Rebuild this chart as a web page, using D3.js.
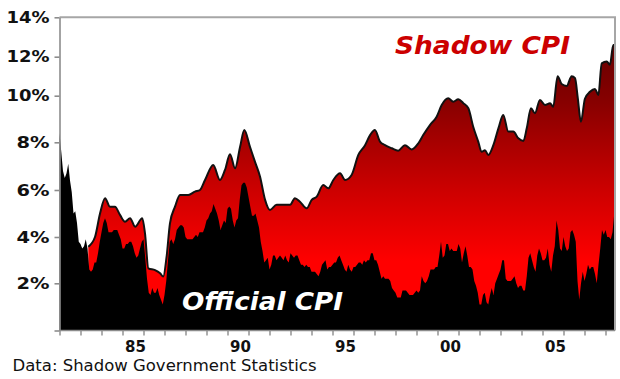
<!DOCTYPE html>
<html><head><meta charset="utf-8">
<script src="https://cdn.jsdelivr.net/npm/d3@7"></script>
<style>body{margin:0;background:#fff}svg{display:block}</style>
</head><body>
<svg id="c" width="620" height="379"></svg>
<script>
// ---- data ----
const officialStartYear = 1982; // monthly values, Jan 1982 .. Jun 2008 (year-on-year %)
const officialCPI = [
  8.4,7.6,6.8,6.5,6.7,7.1,6.4,5.9,5.0,5.1,4.6,3.8,   // 1982
  3.7,3.5,3.6,3.9,3.5,2.6,2.5,2.6,2.9,2.9,3.3,3.8,   // 1983
  4.2,4.6,4.8,4.6,4.2,4.2,4.2,4.3,4.3,4.3,4.1,3.9,   // 1984
  3.5,3.5,3.7,3.7,3.8,3.8,3.6,3.3,3.1,3.2,3.5,3.8,   // 1985
  3.9,3.1,2.2,1.6,1.5,1.8,1.6,1.6,1.8,1.5,1.3,1.1,   // 1986
  1.5,2.1,3.0,3.8,3.9,3.7,3.9,4.3,4.4,4.5,4.5,4.4,   // 1987
  4.0,3.9,3.9,3.9,3.9,4.0,4.1,4.0,4.2,4.2,4.2,4.4,   // 1988
  4.7,4.8,5.0,5.1,5.4,5.2,5.0,4.7,4.3,4.5,4.7,4.6,   // 1989
  5.2,5.3,5.2,4.7,4.4,4.7,4.8,5.6,6.2,6.3,6.3,6.1,   // 1990
  5.7,5.3,4.9,4.9,5.0,4.7,4.4,3.8,3.4,2.9,3.0,3.1,   // 1991
  2.6,2.8,3.2,3.2,3.0,3.1,3.2,3.1,3.0,3.2,3.0,2.9,   // 1992
  3.3,3.2,3.1,3.2,3.2,3.0,2.8,2.8,2.7,2.8,2.7,2.7,   // 1993
  2.5,2.5,2.5,2.4,2.3,2.5,2.8,2.9,3.0,2.6,2.7,2.7,   // 1994
  2.8,2.9,2.9,3.1,3.2,3.0,2.8,2.6,2.5,2.8,2.6,2.5,   // 1995
  2.7,2.7,2.8,2.9,2.9,2.8,3.0,2.9,3.0,3.0,3.3,3.3,   // 1996
  3.0,3.0,2.8,2.5,2.2,2.3,2.2,2.2,2.2,2.1,1.8,1.7,   // 1997
  1.6,1.4,1.4,1.4,1.7,1.7,1.7,1.6,1.5,1.5,1.5,1.6,   // 1998
  1.7,1.6,1.7,2.3,2.1,2.0,2.1,2.3,2.6,2.6,2.6,2.7,   // 1999
  2.7,3.2,3.8,3.1,3.2,3.7,3.7,3.4,3.5,3.4,3.4,3.4,   // 2000
  3.7,3.5,2.9,3.3,3.6,3.2,2.7,2.7,2.6,2.1,1.9,1.6,   // 2001
  1.1,1.1,1.5,1.6,1.2,1.1,1.5,1.8,1.5,2.0,2.2,2.4,   // 2002
  2.6,3.0,3.0,2.2,2.1,2.1,2.1,2.2,2.3,2.0,1.8,1.9,   // 2003
  1.9,1.7,1.7,2.3,3.1,3.3,3.0,2.7,2.5,3.2,3.5,3.3,   // 2004
  3.0,3.0,3.1,3.5,2.8,2.5,3.2,3.6,4.7,4.3,3.5,3.4,   // 2005
  4.0,3.6,3.4,3.5,4.2,4.3,4.1,3.8,2.1,1.3,2.0,2.5,   // 2006
  2.1,2.4,2.8,2.6,2.7,2.7,2.4,2.0,2.8,3.5,4.3,4.1,   // 2007
  4.3,4.0,4.0,3.9,4.2,5.0                            // 2008
];
const shadowDates = [
  1983.37,1983.69,1983.93,1984.17,1984.40,1984.64,1984.88,1985.12,1985.36,1985.60,
  1985.94,1986.07,1986.23,1986.55,1986.79,1986.94,1987.10,1987.26,1987.50,1987.74,
  1988.13,1988.45,1988.69,1988.93,1989.32,1989.64,1989.88,1990.12,1990.36,1990.60,
  1990.80,1991.07,1991.31,1991.55,1991.79,1992.02,1992.34,1992.74,1992.98,1993.21,
  1993.45,1993.77,1994.01,1994.25,1994.56,1994.80,1995.04,1995.36,1995.60,1995.91,
  1996.23,1996.55,1996.79,1997.02,1997.26,1997.50,1997.82,1998.13,1998.45,1998.77,
  1999.09,1999.32,1999.64,1999.96,2000.20,2000.51,2000.75,2000.99,2001.23,2001.47,
  2001.70,2001.94,2002.10,2002.26,2002.42,2002.66,2002.90,2003.13,2003.37,2003.61,
  2003.85,2004.09,2004.25,2004.45,2004.64,2004.88,2005.12,2005.36,2005.51,2005.72,
  2005.91,2006.15,2006.39,2006.55,2006.68,2006.83,2007.02,2007.26,2007.50,2007.66,
  2007.82,2008.06,2008.21,2008.37,2008.42
];
const shadowCPI = [
  3.58,4.0,5.0,5.65,5.29,5.29,4.94,4.65,4.8,4.44,
  4.8,4.16,2.65,2.57,2.43,2.29,3.15,4.58,5.29,5.79,
  5.79,5.93,6.0,6.42,7.05,6.42,6.84,7.5,6.91,7.81,
  8.53,7.81,7.18,6.56,5.58,5.15,5.37,5.37,5.37,5.65,
  5.5,5.22,5.58,5.72,6.21,6.07,6.42,6.7,6.42,6.63,
  7.47,7.88,8.31,8.53,8.03,7.88,7.75,7.65,7.88,7.7,
  7.96,8.31,8.74,9.1,9.6,9.89,9.74,9.85,9.68,9.46,
  8.67,8.03,7.6,7.67,7.47,7.88,8.6,9.17,8.46,8.46,
  8.17,8.06,8.6,9.46,9.25,9.82,9.6,9.68,9.53,11.0,
  10.6,10.5,11.0,10.9,9.9,8.88,9.87,10.2,10.35,10.04,
  11.66,11.75,11.59,12.6,12.6
];
const yTickValues = [0,2,4,6,8,10,12,14];
const yTickLabels = ["","2%","4%","6%","8%","10%","12%","14%"];
const xLabelYears = [1985,1990,1995,2000,2005];
const xLabels = ["85","90","95","00","05"];
const seriesNames = ["Shadow CPI","Official CPI"];
const sourceNote = "Data: Shadow Government Statistics";

// ---- layout ----
const svg = d3.select("#c");
const L = 59.5, R = 615, T = 17.3, B = 330.5;
const x = d3.scaleLinear().domain([1982, 2008 + 5/12]).range([L, 614.25]);
// the reference's vertical axis is slightly compressed at the top
const y = d3.scaleLinear().domain(yTickValues)
  .range([330.5, 283.3, 237, 190, 142.3, 95.7, 56.7, 17.3]);

const official = officialCPI.map((v,i)=>({t: officialStartYear + i/12, v}));
const shadow = shadowDates.map((t,i)=>({t, v: shadowCPI[i]}));

const defs = svg.append("defs");
const g = defs.append("linearGradient").attr("id","redgrad")
  .attr("gradientUnits","userSpaceOnUse").attr("x1",0).attr("x2",0).attr("y1",T).attr("y2",B);
[[0,"#560000"],[0.27,"#870000"],[0.55,"#cc0000"],[0.78,"#ff0000"],[1,"#ff0000"]]
  .forEach(([o,c])=>g.append("stop").attr("offset",o).attr("stop-color",c));

// shadow area
svg.append("path").datum(shadow)
  .attr("fill","url(#redgrad)")
  .attr("d", d3.area().x(d=>x(d.t)).y0(y(0)).y1(d=>y(d.v)).curve(d3.curveMonotoneX));
svg.append("path").datum(shadow)
  .attr("fill","none").attr("stroke","#111").attr("stroke-width",2).attr("stroke-linejoin","round")
  .attr("d", d3.line().x(d=>x(d.t)).y(d=>y(d.v)).curve(d3.curveMonotoneX));

// official area
svg.append("path").datum(official)
  .attr("fill","#000")
  .attr("d", d3.area().x(d=>x(d.t)).y0(y(0)).y1(d=>y(d.v)));

// frame (top & right)
svg.append("path")
  .attr("d", `M${L},${T}H${R}V${B}`)
  .attr("fill","none").attr("stroke","#a6a6a6").attr("stroke-width",2);

// y axis
const ya = svg.append("g").attr("transform",`translate(${L},0)`)
  .call(d3.axisLeft(y).tickValues(yTickValues).tickSize(5).tickSizeOuter(0).tickFormat(""));
ya.selectAll("path,line").attr("stroke","#8c8c8c").attr("stroke-width",1.6);

// x axis: year ticks
const xa = svg.append("g").attr("transform",`translate(0,${B})`)
  .call(d3.axisBottom(x).tickValues(d3.range(1982,2009)).tickSize(5).tickSizeOuter(0).tickFormat(""));
xa.select("path").attr("d",`M${L},0H${R}`);
xa.selectAll("path,line").attr("stroke","#8c8c8c").attr("stroke-width",1.4);

const font = "'DejaVu Sans', Verdana, sans-serif";
// y labels
const yLabW = {"2%":33,"4%":33,"6%":33,"8%":33,"10%":43,"12%":43,"14%":43};
svg.append("g").selectAll("text").data(yTickValues.slice(1)).join("text")
  .attr("x",49.5).attr("y",d=>y(d)+1)
  .attr("text-anchor","end").attr("dominant-baseline","middle")
  .attr("font-family",font).attr("font-weight","bold").attr("font-size",15).attr("fill","#111")
  .attr("textLength",d=>yLabW[yTickLabels[yTickValues.indexOf(d)]])
  .attr("lengthAdjust","spacingAndGlyphs")
  .text(d=>yTickLabels[yTickValues.indexOf(d)]);

// x labels
svg.append("g").selectAll("text").data(xLabelYears).join("text")
  .attr("x",d=>x(d+0.5)+2.5).attr("y",352)
  .attr("text-anchor","middle")
  .attr("font-family",font).attr("font-weight","bold").attr("font-size",15).attr("fill","#111")
  .text((d,i)=>xLabels[i]);

// series labels
svg.append("text").attr("x",395).attr("y",53.5)
  .attr("font-family",font).attr("font-weight","bold").attr("font-style","italic")
  .attr("font-size",24).attr("fill","#cc0000")
  .attr("textLength",175).attr("lengthAdjust","spacingAndGlyphs")
  .text(seriesNames[0]);
svg.append("text").attr("x",182).attr("y",310)
  .attr("font-family",font).attr("font-weight","bold").attr("font-style","italic")
  .attr("font-size",24).attr("fill","#fff")
  .attr("textLength",161).attr("lengthAdjust","spacingAndGlyphs")
  .text(seriesNames[1]);

// source note
svg.append("text").attr("x",12.5).attr("y",371)
  .attr("font-family",font).attr("font-size",15).attr("fill","#111")
  .attr("textLength",304).attr("lengthAdjust","spacingAndGlyphs")
  .text(sourceNote);
</script>
</body></html>
